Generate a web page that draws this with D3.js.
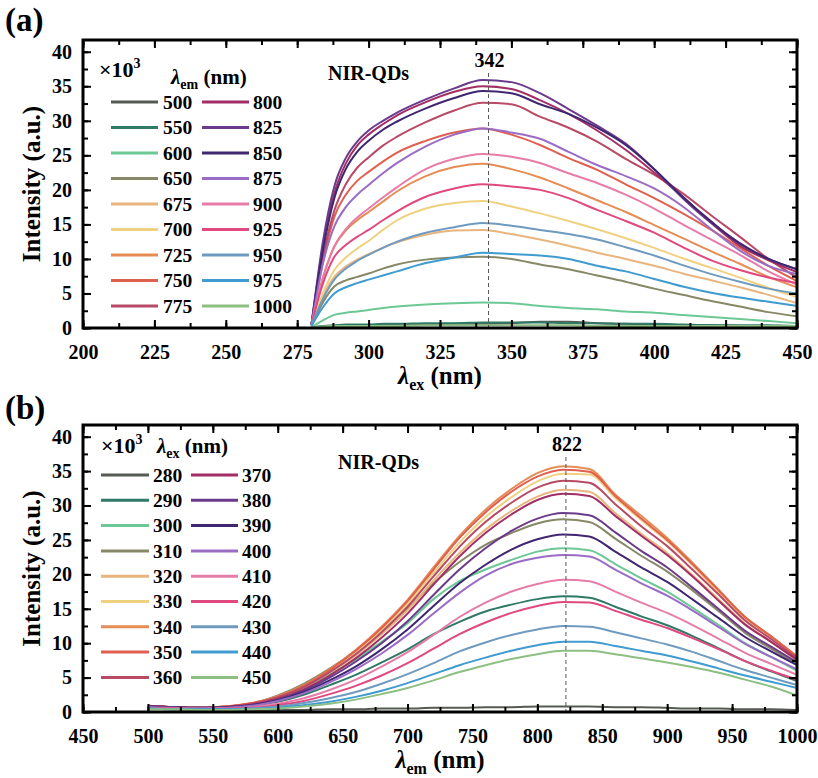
<!DOCTYPE html>
<html><head><meta charset="utf-8">
<script src="https://cdn.jsdelivr.net/npm/d3@7"></script>
<style>
body{margin:0;background:#fff}
svg{display:block}
text{font-family:"Liberation Serif";font-weight:bold;fill:#000}
</style>
</head><body>
<svg id="c" width="818" height="778"></svg>
<script>
// ---------------- DATA ----------------
const palette = ["#555a52","#2f7a67","#6cc894","#878866","#e8b57e","#efd180","#e68c55","#e0604f","#b84a66",
                 "#a22e65","#6b3a8a","#3e2670","#9b6cc6","#e77ca8","#e0487e","#6f9abf","#3f9bd0","#8dbf83"];

// Panel (a): excitation spectra, x = lambda_ex (nm), one series per lambda_em
const emLabels = ["500","550","600","650","675","700","725","750","775","800","825","850","875","900","925","950","975","1000"];
const xA = [280,284,288,292,296,300,305,310,320,330,340,350,360,370,380,390,400,410,420,430,440,450];
const a500  = [0.1,0.2,0.3,0.3,0.3,0.4,0.4,0.4,0.5,0.6,0.6,0.7,0.9,0.9,0.7,0.6,0.5,0.4,0.4,0.3,0.3,0.3];
const a550  = [0.1,0.3,0.4,0.5,0.5,0.5,0.6,0.6,0.7,0.7,0.8,0.8,0.8,0.7,0.7,0.6,0.6,0.5,0.4,0.4,0.4,0.3];
const a600  = [0.1,1.1,1.9,2.2,2.4,2.6,2.9,3.1,3.4,3.6,3.7,3.6,3.2,2.9,2.7,2.4,2.2,1.9,1.6,1.3,1.0,0.7];
const a650  = [0.3,3.7,6.0,6.9,7.4,7.9,8.6,9.2,9.9,10.2,10.3,10.0,9.2,8.5,7.6,6.7,5.7,4.8,3.9,3.1,2.3,1.7];
const a675  = [0.4,4.6,7.4,8.9,9.9,10.7,11.6,12.4,13.5,14.1,14.2,13.6,12.8,11.9,10.9,10.0,9.0,7.9,6.9,5.9,4.8,3.6];
const a700  = [0.4,5.0,8.4,10.2,11.5,12.6,14.2,15.6,17.3,18.1,18.4,17.6,16.6,15.5,14.3,13.0,11.6,10.1,8.7,7.3,5.8,4.5];
const a725  = [0.5,7.3,11.8,14.1,15.6,16.8,18.3,19.8,22.0,23.3,23.8,23.0,21.8,20.2,18.5,16.8,14.9,13.0,11.1,9.3,7.4,5.9];
const a750  = [0.5,9.6,16.1,19.3,21.3,22.6,24.1,25.4,27.1,28.3,28.9,28.0,26.5,24.6,22.9,20.8,18.8,16.6,14.2,11.6,9.0,6.8];
const a775  = [0.5,10.2,17.0,20.8,23.2,24.7,26.4,27.7,29.8,31.5,32.6,32.4,30.6,29.0,27.0,24.5,22.2,19.5,16.3,13.2,10.0,7.3];
const a800  = [0.5,11.8,19.5,23.8,26.4,28.0,29.5,30.8,32.7,34.2,35.0,34.6,33.0,31.0,28.6,25.8,22.5,19.0,15.2,11.9,9.8,8.1];
const a825  = [0.5,12.5,20.5,24.6,27.0,28.6,30.0,31.2,33.1,34.7,35.9,35.6,34.0,31.7,29.3,26.7,23.0,18.8,15.2,12.3,10.0,8.5];
const a850  = [0.5,11.2,18.8,23.0,25.5,27.1,28.7,29.9,31.8,33.3,34.3,34.0,32.4,31.0,29.0,26.5,23.0,19.0,15.4,12.2,10.0,8.5];
const a875  = [0.5,9.3,14.7,17.5,19.3,20.7,22.4,23.9,26.3,28.0,28.9,28.3,27.4,25.5,23.6,22.0,20.2,17.6,14.3,11.2,9.0,7.8];
const a900  = [0.5,7.2,11.8,14.3,16.0,17.3,18.9,20.4,23.0,24.5,25.2,24.8,23.9,22.4,21.0,19.3,17.3,15.0,12.8,10.6,8.2,6.3];
const a925  = [0.5,6.4,10.3,12.0,13.2,14.2,15.6,16.9,19.0,20.2,20.8,20.5,20.0,18.8,17.1,15.5,13.8,11.7,9.8,8.4,7.3,6.5];
const a950  = [0.4,4.2,7.0,8.6,9.7,10.6,11.6,12.5,13.8,14.6,15.2,14.8,14.2,13.6,12.8,11.7,10.5,9.1,7.8,6.7,5.7,5.0];
const a975  = [0.3,3.0,5.0,5.9,6.5,7.0,7.6,8.2,9.4,10.2,10.9,10.7,10.5,10.0,9.0,8.2,7.1,6.0,5.1,4.4,3.8,3.2];
const a1000 = [0.1,0.2,0.3,0.3,0.3,0.3,0.3,0.3,0.4,0.4,0.4,0.4,0.4,0.4,0.3,0.3,0.3,0.3,0.3,0.3,0.3,0.3];
const seriesA = [a500,a550,a600,a650,a675,a700,a725,a750,a775,a800,a825,a850,a875,a900,a925,a950,a975,a1000];

// Panel (b): emission spectra, x = lambda_em (nm), one series per lambda_ex
const exLabels = ["280","290","300","310","320","330","340","350","360","370","380","390","400","410","420","430","440","450"];
const xB = [500,520,540,560,580,600,620,640,660,680,700,720,740,760,780,800,820,840,860,880,900,920,940,960,980,1000];
const b280 = [0.5,0.4,0.3,0.3,0.3,0.3,0.3,0.4,0.4,0.5,0.5,0.6,0.6,0.7,0.7,0.8,0.8,0.8,0.7,0.7,0.6,0.5,0.5,0.4,0.4,0.3];
const b290 = [0.7,0.6,0.5,0.6,0.9,1.5,2.5,3.9,5.4,7.2,9.1,11.3,13.1,14.6,15.6,16.4,16.8,16.6,15.3,13.9,12.6,11.0,9.2,7.4,5.9,4.5];
const b300 = [0.8,0.7,0.6,0.7,1.1,2.1,3.6,5.5,7.6,10.2,12.9,16.4,19.0,20.7,22.1,23.3,23.8,23.5,21.5,19.4,17.5,15.1,12.6,10.0,8.0,6.0];
const b310 = [0.8,0.7,0.6,0.7,1.2,2.4,4.1,6.3,8.9,12.0,15.1,18.7,21.8,24.3,26.0,27.4,28.0,27.6,25.2,22.7,20.4,17.6,14.6,11.5,9.2,6.9];
const b320 = [0.8,0.7,0.6,0.7,1.2,2.1,3.6,5.7,8.2,11.3,14.8,19.1,23.1,26.5,29.2,31.3,32.3,32.0,28.9,25.9,23.1,19.8,16.3,12.8,10.2,7.4];
const b330 = [0.9,0.7,0.6,0.8,1.2,2.2,3.7,5.9,8.6,11.9,15.7,20.2,24.6,28.3,31.2,33.5,34.6,34.5,31.1,27.9,24.8,21.2,17.3,13.5,10.7,7.7];
const b340 = [0.9,0.7,0.6,0.8,1.3,2.3,3.9,6.2,9.0,12.4,16.3,21.0,25.6,29.4,32.4,34.7,35.7,35.3,31.6,28.5,25.3,21.6,17.7,13.8,11.0,8.0];
const b350 = [0.9,0.7,0.6,0.8,1.3,2.2,3.8,6.1,8.9,12.2,16.1,20.7,25.3,29.0,32.0,34.2,35.2,34.9,31.4,28.1,25.0,21.4,17.6,13.8,11.0,8.1];
const b360 = [0.9,0.7,0.6,0.8,1.2,2.1,3.6,5.8,8.4,11.6,15.3,19.7,24.0,27.6,30.4,32.6,33.6,33.3,30.2,27.0,24.1,20.6,17.0,13.3,10.6,7.8];
const b370 = [0.8,0.7,0.6,0.7,1.1,1.9,3.3,5.3,7.8,10.8,14.3,18.5,22.6,26.0,28.7,30.8,31.7,31.4,28.5,25.6,22.8,19.6,16.1,12.7,10.2,7.6];
const b380 = [0.8,0.7,0.6,0.7,1.0,1.8,3.1,5.0,7.3,10.0,13.2,17.0,20.7,23.8,26.3,28.1,28.9,28.6,26.1,23.4,21.0,18.0,14.9,11.8,9.5,7.2];
const b390 = [0.8,0.7,0.6,0.7,1.0,1.7,2.9,4.6,6.6,9.1,12.0,15.4,18.7,21.4,23.6,25.1,25.8,25.5,23.3,21.0,18.9,16.3,13.6,10.9,8.8,6.8];
const b400 = [0.7,0.6,0.5,0.6,0.9,1.6,2.7,4.3,6.2,8.5,11.2,14.3,17.3,19.8,21.5,22.4,22.8,22.6,20.7,18.7,16.9,14.7,12.3,9.9,8.0,6.2];
const b410 = [0.6,0.5,0.5,0.5,0.7,1.2,2.0,3.2,4.7,6.6,8.7,11.2,13.8,15.9,17.5,18.6,19.2,19.0,17.5,15.9,14.4,12.6,10.6,8.6,7.0,5.4];
const b420 = [0.5,0.5,0.4,0.5,0.6,1.0,1.6,2.6,3.8,5.3,7.1,9.2,11.3,13.0,14.4,15.4,16.0,15.9,14.7,13.4,12.2,10.7,9.1,7.4,6.0,4.7];
const b430 = [0.5,0.4,0.4,0.4,0.5,0.8,1.3,2.0,2.9,4.1,5.5,7.1,8.8,10.1,11.2,12.0,12.5,12.4,11.6,10.7,9.8,8.7,7.4,6.1,5.0,3.9];
const b440 = [0.5,0.4,0.4,0.4,0.5,0.6,1.0,1.5,2.2,3.1,4.2,5.5,6.8,7.9,8.9,9.7,10.2,10.2,9.6,8.9,8.2,7.3,6.3,5.3,4.4,3.5];
const b450 = [0.4,0.4,0.3,0.3,0.4,0.5,0.8,1.2,1.8,2.6,3.5,4.6,5.8,6.8,7.7,8.4,8.9,8.9,8.4,7.8,7.2,6.5,5.7,4.7,3.7,2.4];
const seriesB = [b280,b290,b300,b310,b320,b330,b340,b350,b360,b370,b380,b390,b400,b410,b420,b430,b440,b450];

const yTicks = [0,5,10,15,20,25,30,35,40];
const xTicksA = [200,225,250,275,300,325,350,375,400,425,450];
const xTicksB = [450,500,550,600,650,700,750,800,850,900,950,1000];

// ---------------- DRAW ----------------
const svg = d3.select("#c");

function txt(sel, size) {
  return sel.attr("font-size", size);
}

function drawPanel(o) {
  const g = svg.append("g");
  const x = d3.scaleLinear().domain(o.xDomain).range([o.left, o.right]);
  const y = d3.scaleLinear().domain([0, 41.7]).range([o.bottom, o.top]);
  const clipId = "clip" + o.tag;
  svg.append("clipPath").attr("id", clipId).append("rect")
    .attr("x", o.left).attr("y", o.top).attr("width", o.right - o.left).attr("height", o.bottom - o.top);

  const line = d3.line().x(d => x(d[0])).y(d => y(d[1])).curve(d3.curveMonotoneX);
  const cg = g.append("g").attr("clip-path", `url(#${clipId})`);
  o.series.forEach((s, i) => {
    cg.append("path").datum(o.xs.map((v, k) => [v, s[k]]))
      .attr("d", line).attr("fill", "none").attr("stroke", palette[i])
      .attr("stroke-width", 2).attr("stroke-linejoin", "round");
  });

  g.append("line").attr("x1", x(o.peak)).attr("x2", x(o.peak))
    .attr("y1", o.peakTop).attr("y2", o.bottom)
    .attr("stroke", "#555").attr("stroke-width", 1).attr("stroke-dasharray", "4,3");
  txt(g.append("text").attr("x", x(o.peak) + 1).attr("y", o.peakTop - 6).attr("text-anchor", "middle"), 20).text(String(o.peak));

  const major = 8, minor = 5;
  const xMinor = d3.range(o.xDomain[0], o.xDomain[1] + 0.01, o.xMinorStep);
  const yMinor = d3.range(0, 41, 2.5);
  function styleAxis(sel) {
    sel.attr("font-family", null).attr("font-size", 20);
    sel.select(".domain").remove();
    sel.selectAll("line").attr("stroke", "#000").attr("stroke-width", 2);
    sel.selectAll("text").attr("fill", null);
  }
  g.append("g").attr("transform", `translate(0,${o.bottom})`)
    .call(d3.axisBottom(x).tickValues(xMinor).tickSize(-minor).tickFormat("")).call(styleAxis);
  g.append("g").attr("transform", `translate(0,${o.bottom})`)
    .call(d3.axisBottom(x).tickValues(o.xTicks).tickSize(-major).tickPadding(17).tickFormat(d3.format("d"))).call(styleAxis);
  g.append("g").attr("transform", `translate(0,${o.top})`)
    .call(d3.axisTop(x).tickValues(xMinor).tickSize(-minor).tickFormat("")).call(styleAxis);
  g.append("g").attr("transform", `translate(0,${o.top})`)
    .call(d3.axisTop(x).tickValues(o.xTicks).tickSize(-major).tickFormat("")).call(styleAxis);
  g.append("g").attr("transform", `translate(${o.left},0)`)
    .call(d3.axisLeft(y).tickValues(yMinor).tickSize(-minor).tickFormat("")).call(styleAxis);
  g.append("g").attr("transform", `translate(${o.left},0)`)
    .call(d3.axisLeft(y).tickValues(yTicks).tickSize(-major).tickPadding(11).tickFormat(d3.format("d"))).call(styleAxis);
  g.append("g").attr("transform", `translate(${o.right},0)`)
    .call(d3.axisRight(y).tickValues(yMinor).tickSize(-minor).tickFormat("")).call(styleAxis);
  g.append("g").attr("transform", `translate(${o.right},0)`)
    .call(d3.axisRight(y).tickValues(yTicks).tickSize(-major).tickFormat("")).call(styleAxis);

  g.append("rect").attr("x", o.left).attr("y", o.top).attr("width", o.right - o.left).attr("height", o.bottom - o.top)
    .attr("fill", "none").attr("stroke", "#000").attr("stroke-width", 3);

  const xt = txt(g.append("text").attr("x", (o.left + o.right) / 2).attr("y", o.bottom + 56).attr("text-anchor", "middle"), 25);
  xt.append("tspan").attr("font-style", "italic").text("λ");
  xt.append("tspan").attr("font-size", 16).attr("dy", 6).text(o.xSub);
  xt.append("tspan").attr("dy", -6).text(" (nm)");

  txt(g.append("text").attr("transform", `translate(40,${(o.top + o.bottom) / 2}) rotate(-90)`).attr("text-anchor", "middle"), 25)
    .text("Intensity (a.u.)");

  txt(g.append("text").attr("x", 5).attr("y", o.labelY), 33).text(o.tag === "a" ? "(a)" : "(b)");

  txt(g.append("text").attr("x", o.nirX).attr("y", o.nirY), 20).text("NIR-QDs");

  const m = txt(g.append("text").attr("x", o.mulX).attr("y", o.mulY), 22);
  m.append("tspan").text("×10");
  m.append("tspan").attr("font-size", 14).attr("dy", -9).text("3");
  const h = txt(g.append("text").attr("x", o.hdrX).attr("y", o.hdrY), 21);
  h.append("tspan").attr("font-style", "italic").text("λ");
  h.append("tspan").attr("font-size", 14).attr("dy", 5).text(o.legSub);
  h.append("tspan").attr("dy", -5).text(" (nm)");

  o.labels.forEach((lab, i) => {
    const col = Math.floor(i / 9), row = i % 9;
    const yy = o.legY0 + row * o.legDy;
    const c = o.cols[col];
    g.append("line").attr("x1", c[0]).attr("x2", c[1]).attr("y1", yy).attr("y2", yy)
      .attr("stroke", palette[i]).attr("stroke-width", 3);
    txt(g.append("text").attr("x", c[2]).attr("y", yy).attr("dy", "0.35em"), 19.5).text(lab);
  });
}

drawPanel({
  tag: "a", xDomain: [200, 450], left: 83, right: 797, top: 40, bottom: 328, labelY: 31,
  xs: xA, series: seriesA, xTicks: xTicksA, xMinorStep: 12.5, xSub: "ex",
  peak: 342, peakTop: 73, nirX: 328, nirY: 80,
  mulX: 99, mulY: 77, hdrX: 171, hdrY: 84, legSub: "em",
  labels: emLabels, legY0: 102, legDy: 25.5,
  cols: [[111, 158, 163], [202, 249, 253]]
});
drawPanel({
  tag: "b", xDomain: [450, 1000], left: 83, right: 797, top: 425, bottom: 712, labelY: 419,
  xs: xB, series: seriesB, xTicks: xTicksB, xMinorStep: 25, xSub: "em",
  peak: 822, peakTop: 457, nirX: 338, nirY: 469,
  mulX: 101, mulY: 453, hdrX: 157, hdrY: 453, legSub: "ex",
  labels: exLabels, legY0: 475, legDy: 25.3,
  cols: [[101, 149, 153], [191, 238, 242]]
});
</script>
</body></html>
